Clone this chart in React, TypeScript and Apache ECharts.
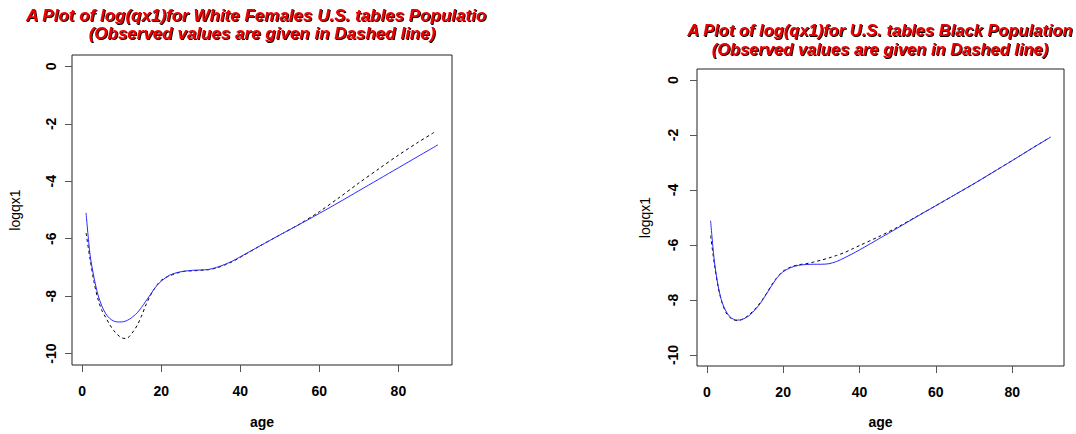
import React, { useEffect, useRef } from 'react';
import * as echarts from 'echarts';

// ---- data ----
const ages = [1, 2, 3, 4, 5, 6, 7, 8, 9, 10, 11, 12, 13, 14, 15, 16, 17, 18, 19, 20, 22, 24, 26, 28, 30, 32, 34, 36, 38, 40, 45, 50, 55, 60, 65, 70, 75, 80, 85, 90];
const whiteObsAges = [1, 2, 3, 4, 5, 6, 7, 8, 9, 10, 11, 12, 13, 14, 15, 16, 17, 18, 19, 20, 22, 24, 26, 28, 30, 32, 34, 36, 38, 40, 45, 50, 55, 60, 65, 70, 75, 80, 85, 89];

const whiteFitted = [-5.1, -6.55, -7.35, -7.95, -8.35, -8.62, -8.78, -8.87, -8.9, -8.9, -8.87, -8.8, -8.7, -8.57, -8.4, -8.2, -8.0, -7.8, -7.62, -7.48, -7.28, -7.18, -7.13, -7.1, -7.09, -7.07, -7.0, -6.9, -6.78, -6.63, -6.25, -5.87, -5.5, -5.12, -4.73, -4.33, -3.93, -3.53, -3.13, -2.73];
const whiteObserved = [-5.8, -6.7, -7.5, -8.1, -8.5, -8.75, -9.0, -9.2, -9.35, -9.45, -9.48, -9.4, -9.22, -9.0, -8.7, -8.35, -8.05, -7.8, -7.6, -7.45, -7.3, -7.2, -7.13, -7.12, -7.1, -7.08, -7.02, -6.92, -6.8, -6.65, -6.25, -5.87, -5.49, -5.06, -4.57, -4.06, -3.57, -3.09, -2.64, -2.3];

const blackFitted = [-5.12, -6.6, -7.5, -8.08, -8.4, -8.6, -8.7, -8.73, -8.72, -8.66, -8.58, -8.45, -8.3, -8.13, -7.92, -7.7, -7.48, -7.27, -7.1, -6.97, -6.82, -6.74, -6.71, -6.7, -6.7, -6.68, -6.6, -6.47, -6.33, -6.18, -5.78, -5.38, -4.97, -4.57, -4.17, -3.77, -3.35, -2.93, -2.5, -2.08];
const blackObserved = [-5.66, -6.7, -7.55, -8.1, -8.45, -8.63, -8.72, -8.75, -8.72, -8.65, -8.55, -8.42, -8.27, -8.1, -7.9, -7.68, -7.45, -7.25, -7.08, -6.95, -6.8, -6.72, -6.68, -6.62, -6.55, -6.47, -6.38, -6.28, -6.15, -6.02, -5.7, -5.35, -4.96, -4.57, -4.17, -3.77, -3.35, -2.93, -2.5, -2.08];

const xTicks = [0, 20, 40, 60, 80];
const yTicks = [0, -2, -4, -6, -8, -10];

const titleLeft1 = 'A Plot of log(qx1)for White Females U.S. tables Populatio';
const titleLeft2 = '(Observed values are given in Dashed line)';
const titleRight1 = 'A Plot of log(qx1)for U.S. tables Black Population';
const titleRight2 = '(Observed values are given in Dashed line)';

const FONT = 'Arial, "Liberation Sans", sans-serif';

function pairs(xs: number[], ys: number[]) {
  return xs.map((x, i) => [x, ys[i]]);
}

function xAxisCfg(gi: number, nameGap: number) {
  return {
    type: 'value', gridIndex: gi, min: -2.56, max: 93.56, position: 'bottom',
    axisLine: { show: false, onZero: false }, splitLine: { show: false },
    axisTick: { show: true, inside: false, length: 7, customValues: xTicks, lineStyle: { color: '#555', width: 1 } },
    axisLabel: { customValues: xTicks, margin: 19, fontSize: 14, fontWeight: 'bold', color: '#000', fontFamily: FONT },
    name: 'age', nameLocation: 'middle', nameGap,
    nameTextStyle: { fontSize: 14, fontWeight: 'bold', color: '#000', fontFamily: FONT },
  };
}

function yAxisCfg(gi: number, nameGap: number, margin: number) {
  return {
    type: 'value', gridIndex: gi, min: -10.4, max: 0.4, position: 'left',
    axisLine: { show: false, onZero: false }, splitLine: { show: false },
    axisTick: { show: true, inside: false, length: 7, customValues: yTicks, lineStyle: { color: '#555', width: 1 } },
    axisLabel: { customValues: yTicks, rotate: 90, margin, fontSize: 14, fontWeight: 'bold', color: '#000', fontFamily: FONT },
    name: 'logqx1', nameLocation: 'middle', nameGap, nameRotate: 90,
    nameTextStyle: { fontSize: 14, color: '#000', fontFamily: FONT },
  };
}

function titleText(text: string, x: number, y: number, align: string, size: number) {
  return {
    type: 'text', x, y,
    style: {
      text, fill: '#ee0000', font: `italic bold ${size}px ${FONT}`,
      textAlign: align, textVerticalAlign: 'middle',
      textShadowColor: '#000', textShadowOffsetX: 1, textShadowOffsetY: 1, textShadowBlur: 1,
    },
  };
}

export default function App() {
  const ref = useRef<HTMLDivElement>(null);
  useEffect(() => {
    document.body.style.margin = '0';
    const chart = echarts.init(ref.current!, null, { renderer: 'svg' });
    const fitStyle = { color: '#2a2aff', width: 1 };
    const obsStyle = { color: '#000', width: 1, type: [3, 3] };
    chart.setOption({
      animation: false,
      backgroundColor: '#fff',
      grid: [
        { left: 72, top: 55, width: 380, height: 311, show: true, borderColor: '#222', borderWidth: 1, backgroundColor: 'transparent' },
        { left: 697, top: 69, width: 367, height: 301, show: true, borderColor: '#222', borderWidth: 1, backgroundColor: 'transparent' },
      ],
      xAxis: [xAxisCfg(0, 50), xAxisCfg(1, 49)],
      yAxis: [yAxisCfg(0, 50, 14), yAxisCfg(1, 45, 17)],
      series: [
        { type: 'line', xAxisIndex: 0, yAxisIndex: 0, data: pairs(whiteObsAges, whiteObserved), showSymbol: false, smooth: 0.3, lineStyle: obsStyle, z: 2 },
        { type: 'line', xAxisIndex: 0, yAxisIndex: 0, data: pairs(ages, whiteFitted), showSymbol: false, smooth: 0.3, lineStyle: fitStyle, z: 3 },
        { type: 'line', xAxisIndex: 1, yAxisIndex: 1, data: pairs(ages, blackObserved), showSymbol: false, smooth: 0.3, lineStyle: obsStyle, z: 2 },
        { type: 'line', xAxisIndex: 1, yAxisIndex: 1, data: pairs(ages, blackFitted), showSymbol: false, smooth: 0.3, lineStyle: fitStyle, z: 3 },
      ],
      graphic: [
        titleText(titleLeft1, 26, 15, 'left', 17),
        titleText(titleLeft2, 262, 33, 'center', 17),
        titleText(titleRight1, 880, 30, 'center', 16.5),
        titleText(titleRight2, 880, 49, 'center', 16.5),
      ],
    });
    return () => chart.dispose();
  }, []);
  return <div ref={ref} style={{ width: 1076, height: 434 }} />;
}
